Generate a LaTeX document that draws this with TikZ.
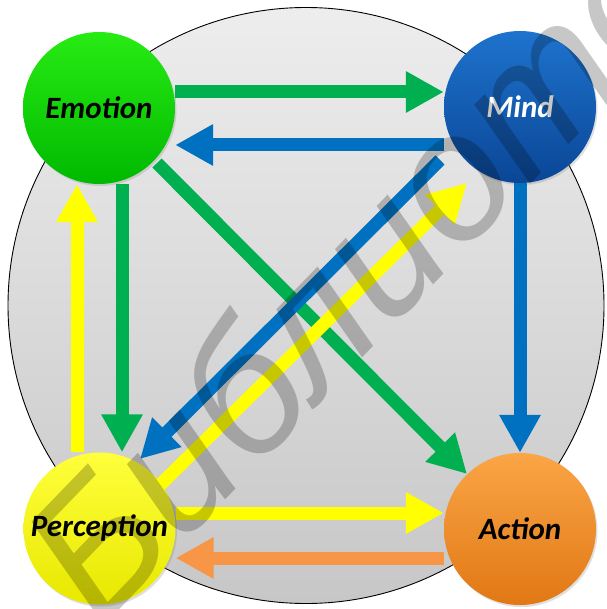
\documentclass[tikz,border=0pt]{standalone}
\usepackage{fontspec}
\newfontfamily\labfont{Carlito}
\newfontfamily\wmfont{Liberation Sans}
\usetikzlibrary{arrows.meta,calc,shadows,shadings}
\definecolor{agreen}{HTML}{00B050}
\definecolor{ablue}{HTML}{0070C0}
\definecolor{ayellow}{HTML}{FFFF00}
\definecolor{aorange}{HTML}{F79646}
\tikzset{
  ball/.style={circle, minimum size=152pt, inner sep=0pt,
    font=\labfont\bfseries\itshape\fontsize{31}{31}\selectfont,
    drop shadow={opacity=0.25, shadow xshift=1.5pt, shadow yshift=-2pt}},
  conn/.style={line width=13pt, -{Triangle[width=39pt,length=38pt]}},
}
\begin{document}
\begin{tikzpicture}[x=1pt,y=-1pt]
\useasboundingbox (0,0) rectangle (606,609);
\clip (0,0) rectangle (606,609);
\fill[white] (0,0) rectangle (606,609);
% big background disc
\draw[line width=0.9pt, top color=black!7, bottom color=black!22] (306,305.5) circle[radius=298];
% nodes
\node[ball, top color={rgb,255:red,40;green,235;blue,20}, bottom color={rgb,255:red,0;green,185;blue,0}] (emo) at (99,108) {Emotion};
\node[ball, top color={rgb,255:red,30;green,115;blue,205}, bottom color={rgb,255:red,10;green,70;blue,150}, text=white] (mind) at (520,107) {Mind};
\node[ball, top color={rgb,255:red,255;green,255;blue,60}, bottom color={rgb,255:red,232;green,232;blue,0}] (perc) at (99.5,528.5) {Perception};
\node[ball, top color={rgb,255:red,250;green,165;blue,70}, bottom color={rgb,255:red,225;green,120;blue,20}] (act) at (520,529) {Action};
% connectors
\draw[conn, agreen] ($(emo)+(58,55)$) -- ($(act)+(-53,-55)$);
\draw[conn, agreen] (emo.east |- 0,92) -- (mind.west |- 0,92);
\draw[conn, ablue] (mind.west |- 0,145) -- (emo.east |- 0,145);
\draw[conn, agreen] (emo.south -| 122,0) -- (perc.north -| 122,0);
\draw[conn, ayellow] (perc.north -| 77,0) -- (emo.south -| 77,0);
\draw[conn, ablue] (mind.south) -- (act.north);
\draw[conn, ayellow] (perc.east |- 0,513) -- (act.west |- 0,513);
\draw[conn, aorange] (act.west |- 0,558) -- (perc.east |- 0,558);
\draw[conn, ablue] ($(mind)+(-80,53)$) -- ($(perc)+(40.5,-69.5)$);
\draw[conn, ayellow] ($(perc)+(60.5,-43.5)$) -- ($(mind)+(-53,76)$);
% watermark
\node[anchor=base west, rotate=46, inner sep=0pt, text=black, opacity=0.22,
  font=\wmfont\itshape\fontsize{180}{180}\selectfont] (wm) at (100,630) {Библиотека};
\end{tikzpicture}
\end{document}
